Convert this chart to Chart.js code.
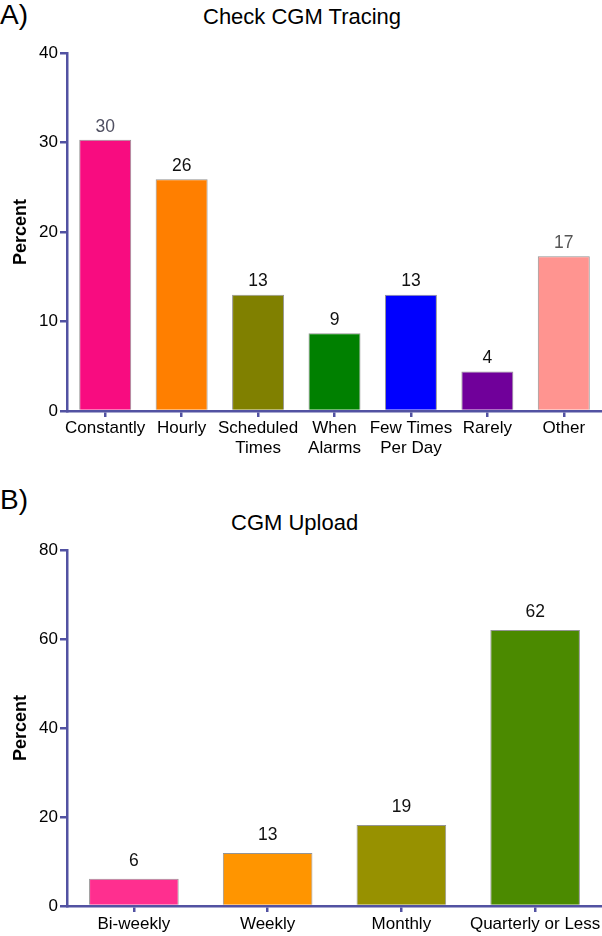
<!DOCTYPE html>
<html>
<head>
<meta charset="utf-8">
<script src="https://cdn.jsdelivr.net/npm/chart.js@4.4.1/dist/chart.umd.min.js"></script>
<style>
  body { margin: 0; background: #fff; }
  #page { position: relative; width: 602px; height: 936px; font-family: "Liberation Sans", Arial, sans-serif; color: #000; }
  .box { position: absolute; left: 0; width: 602px; }
  .txt { position: absolute; white-space: nowrap; line-height: 1; }
</style>
</head>
<body>
<div id="page">
  <div class="txt" style="left:0;top:1px;font-size:28px;">A)</div>
  <div class="txt" style="left:203px;top:6px;font-size:22px;">Check CGM Tracing</div>
  <div class="txt" style="left:0;top:486px;font-size:28px;">B)</div>
  <div class="txt" style="left:231px;top:512px;font-size:22px;">CGM Upload</div>
  <div class="box" style="top:0;height:470px;"><canvas id="chartA" width="602" height="470"></canvas></div>
  <div class="box" style="top:470px;height:466px;"><canvas id="chartB" width="602" height="466"></canvas></div>
</div>
<script>
// panel A - how often CGM tracing is checked
const tracingLabels = [
  'Constantly', 'Hourly', ['Scheduled', 'Times'], ['When', 'Alarms'],
  ['Few Times', 'Per Day'], 'Rarely', 'Other'
];
const tracingValues = [30.3, 25.9, 13.0, 8.7, 13.0, 4.4, 17.3];
const tracingText = ['30', '26', '13', '9', '13', '4', '17'];
const tracingColors = ['#f80c80', '#ff7f00', '#808000', '#008000', '#0000ff', '#70009a', '#ff9490'];

// panel B - how often CGM data is uploaded
const uploadLabels = ['Bi-weekly', 'Weekly', 'Monthly', 'Quarterly or Less'];
const uploadValues = [6.1, 11.9, 18.2, 62.0];
const uploadText = ['6', '13', '19', '62'];
const uploadColors = ['#ff2f8f', '#ff9500', '#979100', '#4b8a00'];

const AXIS = '#5252a2';
Chart.defaults.font.family = '"Liberation Sans", Arial, sans-serif';
Chart.defaults.color = '#000';

const valueLabels = {
  id: 'valueLabels',
  afterDatasetsDraw(chart, args, opts) {
    const ctx = chart.ctx;
    const meta = chart.getDatasetMeta(0);
    ctx.save();
    ctx.font = '17.5px "Liberation Sans", Arial, sans-serif';
    ctx.textAlign = 'center';
    ctx.textBaseline = 'middle';
    meta.data.forEach((bar, i) => {
      ctx.fillStyle = opts.colors ? opts.colors[i] : '#111';
      ctx.fillText(opts.text[i], bar.x, bar.y - opts.offset);
    });
    ctx.restore();
  }
};

function makeChart(id, labels, values, colors, text, cfg) {
  const ctx = document.getElementById(id).getContext('2d');
  return new Chart(ctx, {
    type: 'bar',
    data: {
      labels: labels,
      datasets: [{
        data: values,
        backgroundColor: colors,
        borderColor: 'rgba(60,60,60,0.55)',
        borderWidth: 1,
        barPercentage: cfg.barPct,
        categoryPercentage: 1
      }]
    },
    plugins: [valueLabels],
    options: {
      responsive: false,
      animation: false,
      devicePixelRatio: 1,
      layout: { padding: { top: cfg.top, left: 10, right: 0, bottom: 0 } },
      plugins: {
        legend: { display: false },
        tooltip: { enabled: false },
        valueLabels: { text: text, offset: cfg.labelOffset, colors: cfg.labelColors }
      },
      scales: {
        x: {
          grid: { drawOnChartArea: false, offset: false, tickLength: 6, color: AXIS, lineWidth: 2.5 },
          border: { color: AXIS, width: 2.5 },
          ticks: { font: { size: 17 }, color: '#000', padding: cfg.xPad, maxRotation: 0, autoSkip: false },
          afterFit: s => { s.height = cfg.xHeight; s.paddingLeft = 0; s.paddingRight = 0; }
        },
        y: {
          min: 0,
          max: cfg.max,
          ticks: { stepSize: cfg.step, font: { size: 17 }, color: '#000', padding: 2 },
          grid: { drawOnChartArea: false, tickLength: 7, color: AXIS, lineWidth: 2.5 },
          border: { color: AXIS, width: 2.5 },
          title: { display: true, text: 'Percent', font: { size: 18, weight: 'bold' }, color: '#000', padding: 0 },
          afterFit: s => { s.width = 57; s.paddingTop = 0; s.paddingBottom = 0; }
        }
      }
    }
  });
}

makeChart('chartA', tracingLabels, tracingValues, tracingColors, tracingText, {
  top: 53, xHeight: 59, xPad: 1, max: 40, step: 10, barPct: 0.68, labelOffset: 13,
  labelColors: ['#505062', '#111', '#111', '#111', '#111', '#111', '#555']
});
makeChart('chartB', uploadLabels, uploadValues, uploadColors, uploadText, {
  top: 80, xHeight: 30, xPad: 2, max: 80, step: 20, barPct: 0.67, labelOffset: 18
});
</script>
</body>
</html>
